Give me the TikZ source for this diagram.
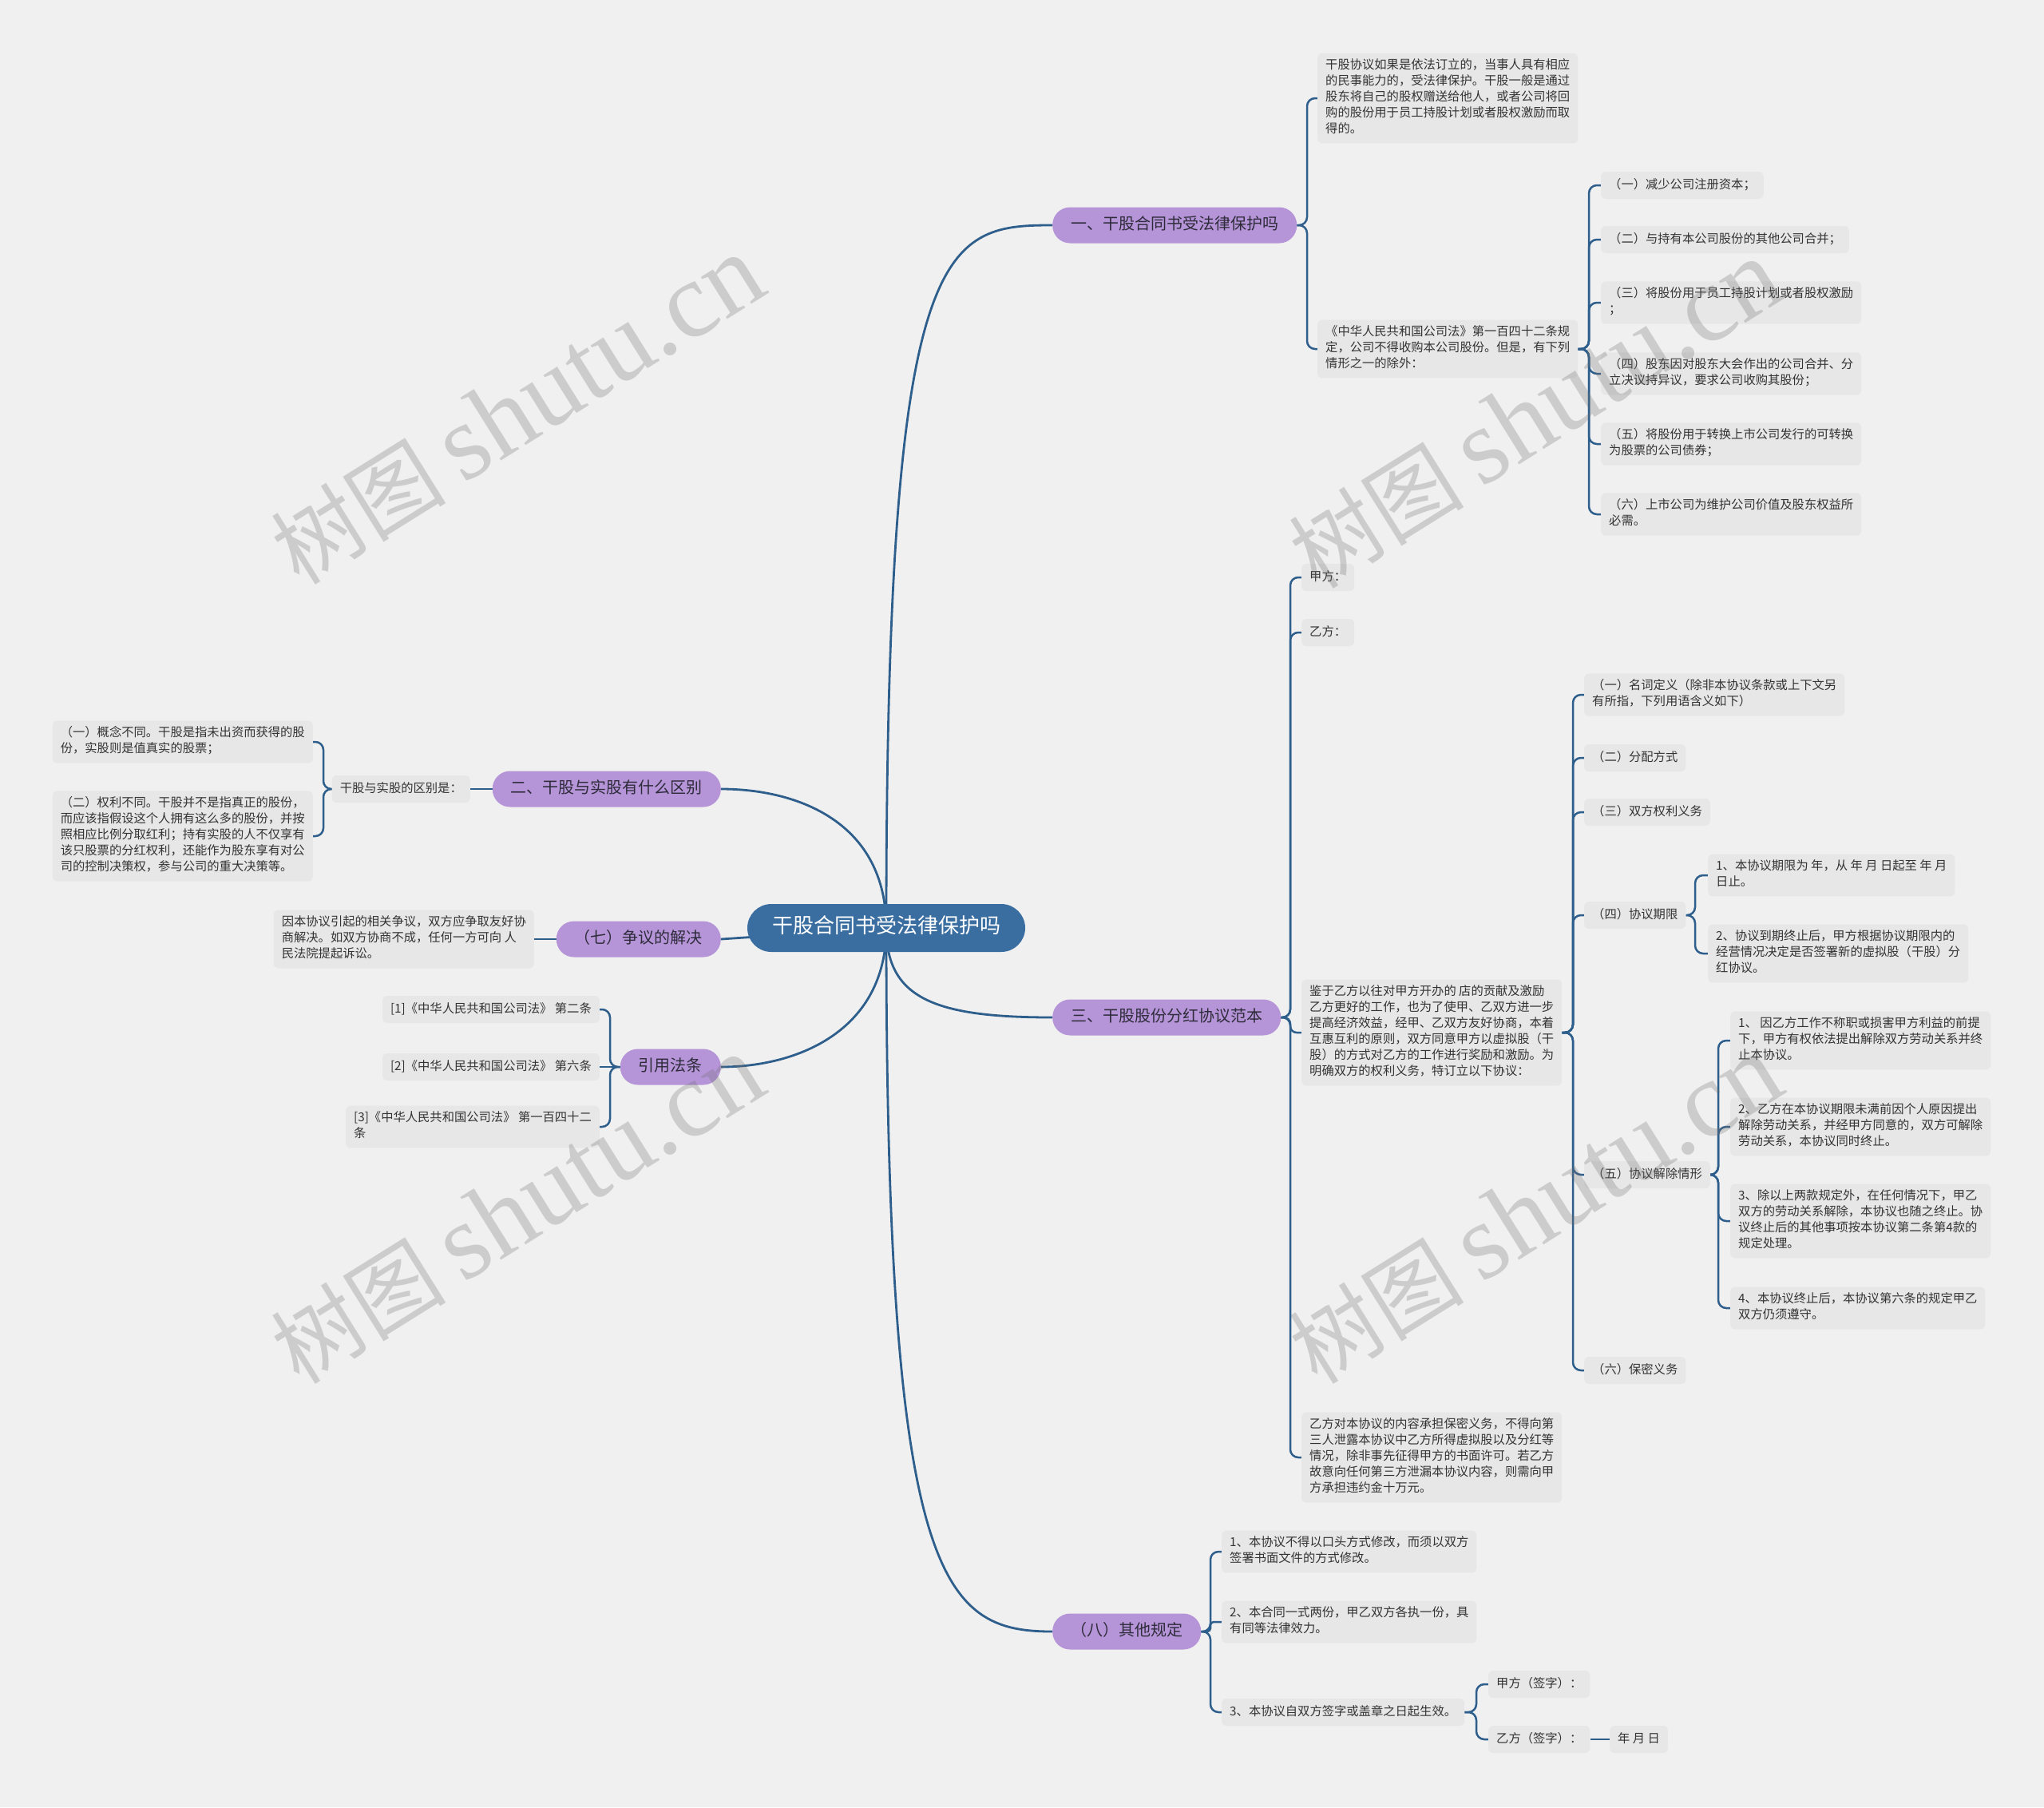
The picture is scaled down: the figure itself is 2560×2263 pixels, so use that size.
\documentclass[tikz,border=0pt]{standalone}
\usepackage{fontspec}
\newfontfamily\cjk{Noto Sans CJK SC}
\newfontfamily\wmserif{Liberation Serif}
\usetikzlibrary{backgrounds}
\definecolor{bgc}{HTML}{F0F0F0}
\definecolor{leafc}{HTML}{E7E7E7}
\definecolor{linec}{HTML}{2E5E8B}
\definecolor{rootc}{HTML}{3A6EA1}
\definecolor{purpc}{HTML}{B595D8}
\definecolor{txtc}{HTML}{333333}
\definecolor{ptxt}{HTML}{2E2B3A}
\definecolor{wmc}{HTML}{707070}
\begin{document}
\begin{tikzpicture}[x=1pt,y=-1pt,
  conn/.style={draw=linec, line width=2.5pt, rounded corners=10pt},
  mainconn/.style={draw=linec, line width=2.8pt},
  leafbox/.style={fill=leafc, rounded corners=6pt, inner xsep=10pt, inner ysep=7pt,
    font=\cjk\fontsize{15.3}{20}\selectfont, text=txtc, align=left,
    execute at begin node=\strut, execute at end node=\strut},
  branch/.style={fill=purpc, rounded corners=22pt, inner xsep=23pt, inner ysep=9.5pt,
    font=\cjk\fontsize{20}{26}\selectfont, text=ptxt, execute at begin node=\strut},
  rootbox/.style={fill=rootc, rounded corners=30pt, inner xsep=31pt, inner ysep=13pt,
    font=\cjk\fontsize{26}{34}\selectfont, text=white, execute at begin node=\strut},
  wmark/.style={text=wmc, text opacity=0.28, rotate=32, inner sep=0pt}
]
\useasboundingbox (0,0) rectangle (2560,2263);

% root and branches
\node[rootbox] (root) at (1110,1162) {干股合同书受法律保护吗};
\node[branch, anchor=west] (b1) at (1318,282) {一、干股合同书受法律保护吗};
\node[branch, anchor=west] (b3) at (1318,1274) {三、干股股份分红协议范本};
\node[branch, anchor=west] (b8) at (1318,2043) {（八）其他规定};
\node[branch, anchor=east] (b2) at (903,988) {二、干股与实股有什么区别};
\node[branch, anchor=east] (b7) at (903,1176) {（七）争议的解决};
\node[branch, anchor=east] (b9) at (903,1336) {引用法条};

% branch 1
\node[leafbox, anchor=west] (a1) at (1650,123) {干股协议如果是依法订立的，当事人具有相应\\的民事能力的，受法律保护。干股一般是通过\\股东将自己的股权赠送给他人，或者公司将回\\购的股份用于员工持股计划或者股权激励而取\\得的。};
\node[leafbox, anchor=west] (a2) at (1650,437) {《中华人民共和国公司法》第一百四十二条规\\定，公司不得收购本公司股份。但是，有下列\\情形之一的除外：};
\node[leafbox, anchor=west] (a21) at (2005,232) {（一）减少公司注册资本；};
\node[leafbox, anchor=west] (a22) at (2005,300) {（二）与持有本公司股份的其他公司合并；};
\node[leafbox, anchor=west] (a23) at (2005,379) {（三）将股份用于员工持股计划或者股权激励\\；};
\node[leafbox, anchor=west] (a24) at (2005,468) {（四）股东因对股东大会作出的公司合并、分\\立决议持异议，要求公司收购其股份；};
\node[leafbox, anchor=west] (a25) at (2005,556) {（五）将股份用于转换上市公司发行的可转换\\为股票的公司债券；};
\node[leafbox, anchor=west] (a26) at (2005,644) {（六）上市公司为维护公司价值及股东权益所\\必需。};

% branch 3
\node[leafbox, anchor=west] (c1) at (1630,723) {甲方：};
\node[leafbox, anchor=west] (c2) at (1630,792) {乙方：};
\node[leafbox, anchor=west] (c3) at (1630,1293) {鉴于乙方以往对甲方开办的 店的贡献及激励\\乙方更好的工作，也为了使甲、乙双方进一步\\提高经济效益，经甲、乙双方友好协商，本着\\互惠互利的原则，双方同意甲方以虚拟股（干\\股）的方式对乙方的工作进行奖励和激励。为\\明确双方的权利义务，特订立以下协议：};
\node[leafbox, anchor=west] (c4) at (1630,1825) {乙方对本协议的内容承担保密义务，不得向第\\三人泄露本协议中乙方所得虚拟股以及分红等\\情况，除非事先征得甲方的书面许可。若乙方\\故意向任何第三方泄漏本协议内容，则需向甲\\方承担违约金十万元。};
\node[leafbox, anchor=west] (d1) at (1984,870) {（一）名词定义（除非本协议条款或上下文另\\有所指，下列用语含义如下）};
\node[leafbox, anchor=west] (d2) at (1984,949) {（二）分配方式};
\node[leafbox, anchor=west] (d3) at (1984,1017) {（三）双方权利义务};
\node[leafbox, anchor=west] (d4) at (1984,1146) {（四）协议期限};
\node[leafbox, anchor=west] (d5) at (1984,1471) {（五）协议解除情形};
\node[leafbox, anchor=west] (d6) at (1984,1716) {（六）保密义务};
\node[leafbox, anchor=west] (d41) at (2139,1096) {1、本协议期限为 年，从 年 月 日起至 年 月\\日止。};
\node[leafbox, anchor=west] (d42) at (2139,1194) {2、协议到期终止后，甲方根据协议期限内的\\经营情况决定是否签署新的虚拟股（干股）分\\红协议。};
\node[leafbox, anchor=west] (d51) at (2167,1303) {1、 因乙方工作不称职或损害甲方利益的前提\\下，甲方有权依法提出解除双方劳动关系并终\\止本协议。};
\node[leafbox, anchor=west] (d52) at (2167,1411) {2、乙方在本协议期限未满前因个人原因提出\\解除劳动关系，并经甲方同意的，双方可解除\\劳动关系，本协议同时终止。};
\node[leafbox, anchor=west] (d53) at (2167,1529) {3、除以上两款规定外，在任何情况下，甲乙\\双方的劳动关系解除，本协议也随之终止。协\\议终止后的其他事项按本协议第二条第4款的\\规定处理。};
\node[leafbox, anchor=west] (d54) at (2167,1638) {4、本协议终止后，本协议第六条的规定甲乙\\双方仍须遵守。};

% branch 8
\node[leafbox, anchor=west] (e1) at (1530,1943) {1、本协议不得以口头方式修改，而须以双方\\签署书面文件的方式修改。};
\node[leafbox, anchor=west] (e2) at (1530,2031) {2、本合同一式两份，甲乙双方各执一份，具\\有同等法律效力。};
\node[leafbox, anchor=west] (e3) at (1530,2144) {3、本协议自双方签字或盖章之日起生效。};
\node[leafbox, anchor=west] (e31) at (1864,2109) {甲方（签字）：};
\node[leafbox, anchor=west] (e32) at (1864,2178) {乙方（签字）：};
\node[leafbox, anchor=west] (e33) at (2016,2178) {年 月 日};

% left side
\node[leafbox, anchor=east] (f0) at (589,988) {干股与实股的区别是：};
\node[leafbox, anchor=east] (f1) at (392,929) {（一）概念不同。干股是指未出资而获得的股\\份，实股则是值真实的股票；};
\node[leafbox, anchor=east] (f2) at (392,1047) {（二）权利不同。干股并不是指真正的股份，\\而应该指假设这个人拥有这么多的股份，并按\\照相应比例分取红利；持有实股的人不仅享有\\该只股票的分红权利，还能作为股东享有对公\\司的控制决策权，参与公司的重大决策等。};
\node[leafbox, anchor=east] (g1) at (669,1176) {因本协议引起的相关争议，双方应争取友好协\\商解决。如双方协商不成，任何一方可向 人\\民法院提起诉讼。};
\node[leafbox, anchor=east] (h1) at (751,1264) {[1]《中华人民共和国公司法》 第二条};
\node[leafbox, anchor=east] (h2) at (751,1336) {[2]《中华人民共和国公司法》 第六条};
\node[leafbox, anchor=east] (h3) at (751,1411) {[3]《中华人民共和国公司法》 第一百四十二\\条};

\begin{scope}[on background layer]
\fill[bgc] (0,0) rectangle (2560,2263);
% root connectors
\draw[mainconn] (root.center) .. controls (1110,300) and (1180,282) .. (b1.west);
\draw[mainconn] (root.center) .. controls (1110,1250) and (1170,1274) .. (b3.west);
\draw[mainconn] (root.center) .. controls (1110,1980) and (1180,2043) .. (b8.west);
\draw[mainconn] (b2.east) .. controls (1000,988) and (1110,1030) .. (root.center);
\draw[mainconn] (b7.east) -- (root.center);
\draw[mainconn] (b9.east) .. controls (1000,1336) and (1110,1290) .. (root.center);
% branch 1
\coordinate (k1) at (1637,282);
\draw[conn] (b1.east) -- (k1) |- (a1.west);
\draw[conn] (b1.east) -- (k1) |- (a2.west);
\coordinate (k2) at (1990,437);
\foreach \n in {a21,a22,a23,a24,a25,a26} \draw[conn] (a2.east) -- (k2) |- (\n.west);
% branch 3
\coordinate (k3) at (1616,1274);
\draw[conn] (b3.east) -- (k3) |- (c1.west);
\draw[conn] (b3.east) -- (k3) |- (c2.west);
\draw[conn, rounded corners=8pt] (b3.east) -- (k3) |- (c3.west);
\draw[conn] (b3.east) -- (k3) |- (c4.west);
\coordinate (k4) at (1970,1293);
\foreach \n in {d1,d2,d3,d4,d5,d6} \draw[conn] (c3.east) -- (k4) |- (\n.west);
\coordinate (k5) at (2123,1146);
\foreach \n in {d41,d42} \draw[conn] (d4.east) -- (k5) |- (\n.west);
\coordinate (k6) at (2152,1471);
\foreach \n in {d51,d52,d53,d54} \draw[conn] (d5.east) -- (k6) |- (\n.west);
% branch 8
\coordinate (k7) at (1516,2043);
\draw[conn] (b8.east) -- (k7) |- (e1.west);
\draw[conn, rounded corners=4pt] (b8.east) -- (k7) |- (e2.west);
\draw[conn] (b8.east) -- (k7) |- (e3.west);
\coordinate (k8) at (1849,2144);
\foreach \n in {e31,e32} \draw[conn] (e3.east) -- (k8) |- (\n.west);
\draw[conn] (e32.east) -- (e33.west);
% left side
\draw[conn] (b2.west) -- (f0.east);
\coordinate (k9) at (405,988);
\foreach \n in {f1,f2} \draw[conn] (f0.west) -- (k9) |- (\n.east);
\draw[conn] (b7.west) -- (g1.east);
\coordinate (k10) at (764,1336);
\foreach \n in {h1,h3} \draw[conn] (b9.west) -- (k10) |- (\n.east);
\draw[conn] (b9.west) -- (h2.east);
\end{scope}

% watermarks
\foreach \p in {(648,514),(1923,519),(648,1515),(1923,1515)}
  \node[wmark] at \p {{\cjk\fontsize{110}{110}\selectfont 树图}\hspace{22pt}{\wmserif\fontsize{135}{135}\selectfont shutu.cn}};
\end{tikzpicture}
\end{document}
